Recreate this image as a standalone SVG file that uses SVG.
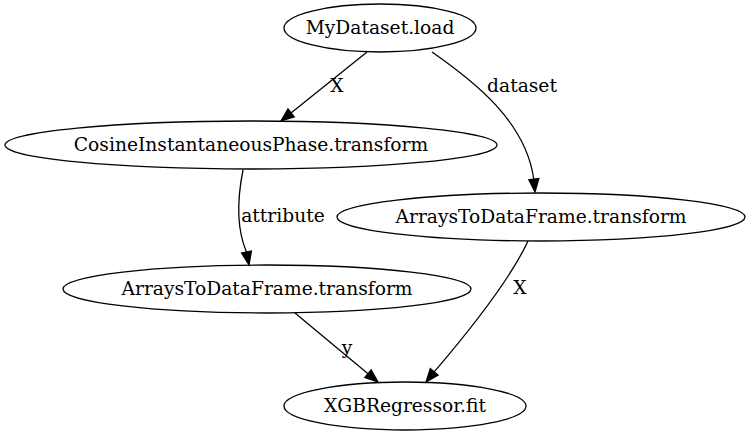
<svg xmlns="http://www.w3.org/2000/svg" width="752" height="435" viewBox="0 0 752 435">
<style>
  .node ellipse { fill: none; stroke: #000; stroke-width: 1.3; }
  text { font-family: "DejaVu Serif", "Liberation Serif", serif; font-size: 18.67px; fill: #000; text-anchor: middle; }
  .edge path { fill: none; stroke: #000; stroke-width: 1.3; }
  .edge polygon { fill: #000; stroke: #000; stroke-width: 1.3; }
</style>
<rect width="752" height="435" fill="#fff"/>
<g id="connectors">
  <g class="edge" id="e1">
    <path d="M367,52 L291,113"/>
    <polygon points="281,121 294.2,116.8 288,109"/>
    <text x="337" y="92">X</text>
  </g>
  <g class="edge" id="e2">
    <path d="M432,52 C475,82 526,122 533.7,179"/>
    <polygon points="535,192 538.8,178.6 528.9,179.8"/>
    <text x="522" y="92">dataset</text>
  </g>
  <g class="edge" id="e3">
    <path d="M243,170 C238,195 235,225 246.5,252"/>
    <polygon points="249,265 251.4,251 241.6,253"/>
    <text x="283" y="222">attribute</text>
  </g>
  <g class="edge" id="e4">
    <path d="M295,313 L368,373.7"/>
    <polygon points="378,382 371.2,369.9 364.8,377.5"/>
    <text x="347" y="354">y</text>
  </g>
  <g class="edge" id="e5">
    <path d="M528,241 C510,280 470,330 434.2,371.9"/>
    <polygon points="426,382 438.1,375.1 430.3,368.7"/>
    <text x="520" y="294">X</text>
  </g>
</g>
<g class="node" id="n_mydataset">
  <ellipse cx="380" cy="28" rx="96" ry="24"/>
  <text x="380" y="34">MyDataset.load</text>
</g>
<g class="node" id="n_cosine">
  <ellipse cx="251" cy="145" rx="246" ry="24"/>
  <text x="251" y="151">CosineInstantaneousPhase.transform</text>
</g>
<g class="node" id="n_arrays_right">
  <ellipse cx="541" cy="217" rx="204" ry="24"/>
  <text x="541" y="223">ArraysToDataFrame.transform</text>
</g>
<g class="node" id="n_arrays_left">
  <ellipse cx="267" cy="289" rx="204" ry="24"/>
  <text x="267" y="295">ArraysToDataFrame.transform</text>
</g>
<g class="node" id="n_xgb">
  <ellipse cx="405" cy="406" rx="121" ry="24"/>
  <text x="405" y="412">XGBRegressor.fit</text>
</g>
</svg>
